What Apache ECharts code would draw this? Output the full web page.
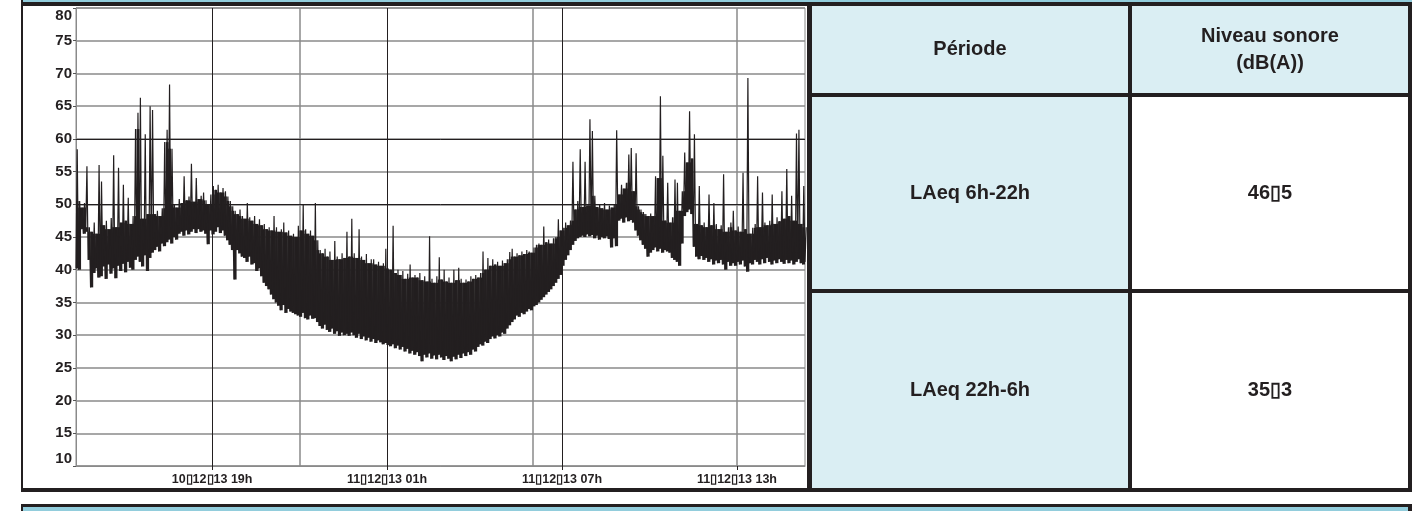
<!DOCTYPE html>
<html><head><meta charset="utf-8">
<script src="https://cdn.jsdelivr.net/npm/echarts@6/dist/echarts.min.js"></script>
<style>html,body{margin:0;padding:0;background:#fff;}#c{width:1424px;height:511px;}</style>
</head><body><div id="c"></div>
<script>
// ---- data ----
const startHour = 14 + 20 / 60;      // 10/12/13 14h20, hours counted from 10/12/13 00h
const endHour = startHour + 25;      // 11/12/13 15h20
const stepMinutes = 5;               // one min/max pair every 5 minutes
const highLevels = [
58.4,50.5,49.5,50.2,55.8,46.5,45.8,47.2,45.5,56.0,
53.5,46.8,47.5,46.2,47.9,57.5,46.5,55.6,47.2,53.0,
47.5,51.0,47.0,48.2,61.5,64.0,66.3,47.8,60.7,48.5,
65.0,64.4,48.5,49.0,48.2,49.4,59.5,61.4,68.3,58.5,
50.0,49.5,50.8,50.2,54.3,50.6,51.2,56.2,50.4,54.0,
50.8,51.3,51.8,50.6,50.0,51.5,52.8,52.2,53.0,51.8,
52.5,52.0,51.2,50.5,49.7,49.0,48.5,49.2,48.2,47.8,
50.2,48.0,47.5,48.2,47.0,47.7,46.8,47.0,46.2,46.5,
46.0,48.2,46.5,45.8,46.2,47.2,45.7,46.0,45.2,45.5,
45.0,46.7,46.0,50.0,46.2,45.5,46.0,45.2,50.2,44.5,
43.0,42.5,43.2,42.0,42.8,41.5,44.4,42.0,41.6,42.5,
41.8,45.8,42.0,47.8,42.5,41.8,46.2,42.0,41.5,42.4,
41.0,41.6,41.6,40.8,41.2,40.6,41.0,43.2,40.2,40.0,
46.7,39.5,40.0,39.2,39.8,38.6,39.4,40.8,38.8,39.2,
38.8,39.5,38.4,39.0,38.2,45.1,38.6,38.0,39.0,41.9,
38.5,40.0,38.2,38.8,38.0,40.0,38.4,40.3,38.6,38.0,
38.5,38.2,39.0,38.6,39.2,38.8,39.5,42.8,40.0,41.8,
40.6,41.6,40.8,41.2,40.6,41.4,41.0,41.6,42.7,43.2,
42.0,42.5,42.2,42.8,42.4,43.0,42.8,42.6,43.4,43.8,
44.0,43.8,46.6,44.2,44.6,44.0,44.8,45.0,47.7,46.0,
46.4,47.2,46.8,47.5,56.5,49.2,50.5,58.4,49.6,56.5,
49.8,63.0,61.2,51.3,49.6,50.0,49.4,50.2,49.2,49.8,
49.5,50.0,61.3,51.5,53.0,52.4,53.3,57.6,58.6,52.0,
57.8,49.7,49.2,48.8,48.5,48.2,48.6,48.2,54.3,54.0,
66.5,57.4,47.5,53.3,47.2,48.0,53.8,53.3,49.0,52.0,
57.9,56.4,64.2,57.0,60.7,47.0,52.8,46.8,47.2,46.5,
51.5,46.8,50.2,47.0,46.2,46.8,54.6,45.8,46.5,47.2,
49.0,46.0,46.6,45.8,54.8,46.2,69.3,45.5,46.4,47.0,
54.3,46.5,51.8,47.2,46.8,47.5,51.5,47.0,48.0,47.4,
52.0,47.8,55.4,48.2,51.3,47.5,60.8,61.4,47.0,52.8,46.5
];
const lowLevels = [
40.2,40.0,46.2,45.5,45.8,41.5,37.3,39.5,40.2,38.8,
39.0,40.5,38.6,40.8,39.4,40.2,38.7,40.6,39.8,40.9,
39.6,41.2,40.3,40.0,41.5,42.0,41.2,40.5,42.2,39.8,
41.8,42.6,43.0,43.5,42.8,44.0,43.6,44.2,44.6,44.0,
45.0,44.6,45.5,45.8,45.2,46.0,45.4,45.8,46.2,45.6,
46.2,45.8,46.0,45.5,43.9,46.0,45.4,45.8,46.5,45.6,
46.0,45.2,44.5,43.8,43.0,38.5,43.0,42.5,42.0,41.8,
41.2,42.0,40.8,41.0,39.8,40.2,39.0,38.0,37.5,37.0,
36.2,35.5,35.0,34.5,33.8,34.6,33.4,34.0,33.6,33.4,
33.2,33.0,32.8,33.4,32.6,32.4,33.0,32.5,32.6,32.0,
31.4,31.0,31.6,30.8,30.5,31.0,30.2,30.6,29.9,30.4,
30.0,30.2,29.9,30.4,30.0,29.6,30.2,29.4,29.8,29.2,
29.6,29.0,29.4,28.8,29.2,28.9,28.6,28.8,28.5,28.3,
28.6,28.0,28.4,27.8,28.2,27.5,27.9,27.2,27.6,27.0,
27.4,26.8,26.0,27.0,26.6,27.2,26.4,26.9,26.3,27.0,
26.6,26.2,26.8,26.4,26.0,26.7,26.3,27.0,26.5,27.2,
26.8,27.4,27.0,27.8,27.5,28.2,28.6,28.4,29.0,28.8,
29.4,29.8,29.5,30.0,29.8,30.4,30.2,31.0,31.5,32.0,
32.4,33.0,32.8,33.4,33.2,33.6,34.0,33.8,34.4,34.6,
35.0,35.4,35.8,36.2,36.6,37.0,37.5,38.0,38.6,39.2,
40.6,41.5,42.2,43.0,43.8,44.4,44.8,45.0,45.2,45.0,
45.4,45.1,45.3,44.8,45.2,44.6,45.0,44.8,45.1,44.7,
43.4,44.8,43.6,47.5,47.8,47.2,48.0,47.4,47.6,47.2,
46.0,45.2,44.5,43.8,43.2,42.0,42.6,43.0,43.4,42.8,
43.2,42.6,43.0,42.8,42.6,41.8,41.5,41.2,40.6,44.0,
48.2,48.8,49.2,48.5,43.5,42.0,41.6,42.1,41.5,41.8,
41.2,41.6,40.8,41.4,41.0,41.5,40.8,40.0,41.2,40.6,
41.0,40.6,41.2,40.8,41.4,40.5,39.7,41.0,40.8,41.5,
41.2,40.8,41.6,41.0,41.8,41.2,40.8,41.4,41.0,41.6,
41.2,40.9,41.5,41.0,41.4,40.8,41.2,41.6,41.0,40.8,41.2
];
const yMin = 10, yMax = 80, yStep = 5;
const tickHours = [19, 25, 31, 37];
const tickLabels = ['10\u25AF12\u25AF13 19h', '11\u25AF12\u25AF13 01h', '11\u25AF12\u25AF13 07h', '11\u25AF12\u25AF13 13h'];
const darkHourLines = [19, 25, 31];   // 19h, 01h, 07h
const greyHourLines = [22, 30, 37];   // 22h, 06h, 13h
const darkLevelLines = [50, 60];
const tableHeader = ['P\u00e9riode', 'Niveau sonore\n(dB(A))'];
const periods = ['LAeq 6h-22h', 'LAeq 22h-6h'];
const periodLevels = ['46\u25AF5', '35\u25AF3'];

// ---- build ----
const ink = '#231f20';
const lightBlue = '#daeef3';
const bandBlue = '#92cddc';
const gridGrey = '#8a8a8a';
const n = lowLevels.length;
const lineData = [];
const bodyData = [];   // solid body of the noise band: low level up to the lowest neighbouring peak
for (let i = 0; i < n; i++) {
  const t = startHour + i * stepMinutes / 60;
  lineData.push([t, lowLevels[i]]);
  lineData.push([t + stepMinutes / 120, highLevels[i]]);
  const core = Math.min(highLevels[i], highLevels[Math.max(0, i - 1)], highLevels[Math.min(n - 1, i + 1)]);
  bodyData.push([t, lowLevels[i], core]);
}
const FONT = '"Liberation Sans", Arial, Helvetica, sans-serif';

const markLines = [];
darkHourLines.forEach(h => markLines.push({xAxis: h, lineStyle: {color: ink, width: 1, type: 'solid'}}));
greyHourLines.forEach(h => markLines.push({xAxis: h, lineStyle: {color: gridGrey, width: 1.5, type: 'solid'}}));
darkLevelLines.forEach(v => markLines.push({yAxis: v, lineStyle: {color: ink, width: 1, type: 'solid'}}));

// table geometry
const T = {x0: 807, x1: 1128, x2: 1408, y0: 2, yH: 93, yR: 289, y3: 488, lw: 4};
const colC1 = (T.x0 + 5 + T.x1) / 2, colC2 = (T.x1 + T.lw + T.x2) / 2;
const rowC = [(T.y0 + T.lw + T.yH) / 2, (T.yH + T.lw + T.yR) / 2, (T.yR + T.lw + T.y3) / 2];
function box(x, y, w, h, fill, z) { return {type: 'rect', shape: {x, y, width: w, height: h}, style: {fill}, silent: true, z: z || 10}; }
function txt(s, x, y) {
  return {type: 'text', x, y, silent: true, z: 20,
    style: {text: s, align: 'center', verticalAlign: 'middle', fill: ink,
      font: 'bold 20px ' + FONT, lineHeight: 27}};
}
const graphics = [
  box(T.x0, T.y0, T.x1 - T.x0, T.y3 - T.y0, lightBlue, 5),
  box(T.x1, T.y0, T.x2 - T.x1, T.yH - T.y0, lightBlue, 5),
  box(21, 0, T.x2 + T.lw - 21, 2, bandBlue),
  box(21, 2, T.x2 + T.lw - 21, 4, ink),
  box(21, 0, 2, 492, ink),
  box(21, 488, T.x2 + T.lw - 21, 4, ink),
  box(T.x0, 2, 5, 490, ink),
  box(T.x1, 2, T.lw, 490, ink),
  box(T.x2, 2, T.lw, 490, ink),
  box(T.x0, T.yH, T.x2 + T.lw - T.x0, T.lw, ink),
  box(T.x0, T.yR, T.x2 + T.lw - T.x0, T.lw, ink),
  box(21, 504, T.x2 + T.lw - 21, 7, ink),
  box(23, 507, T.x2 - 23, 4, bandBlue, 11),
  txt(tableHeader[0], colC1, rowC[0]),
  txt(tableHeader[1], colC2, rowC[0]),
  txt(periods[0], colC1, rowC[1]),
  txt(periodLevels[0], colC2, rowC[1]),
  txt(periods[1], colC1, rowC[2]),
  txt(periodLevels[1], colC2, rowC[2])
];

const chart = echarts.init(document.getElementById('c'), null, {renderer: 'canvas'});
chart.setOption({
  animation: false,
  backgroundColor: '#ffffff',
  grid: {left: 76, top: 8, width: 729, height: 458, show: true, borderColor: gridGrey, borderWidth: 1, backgroundColor: 'transparent'},
  xAxis: {
    type: 'value', min: startHour, max: endHour,
    axisLine: {show: true, lineStyle: {color: gridGrey, width: 1}},
    splitLine: {show: false},
    axisTick: {show: true, customValues: tickHours, length: 4, lineStyle: {color: ink}},
    axisLabel: {customValues: tickHours, margin: 7, color: ink, fontFamily: FONT, fontWeight: 'bold', fontSize: 12.5,
      formatter: v => { const k = tickHours.findIndex(h => Math.abs(h - v) < 1e-6); return k >= 0 ? tickLabels[k] : ''; }}
  },
  yAxis: {
    type: 'value', min: yMin, max: yMax, interval: yStep,
    axisLine: {show: true, lineStyle: {color: gridGrey, width: 1}},
    axisTick: {show: true, length: 3, lineStyle: {color: '#555'}},
    splitLine: {show: true, lineStyle: {color: gridGrey, width: 1.5}},
    axisLabel: {margin: 4, color: ink, fontFamily: FONT, fontWeight: 'bold', fontSize: 15,
      verticalAlignMaxLabel: 'top', verticalAlignMinLabel: 'bottom'}
  },
  series: [{
    type: 'custom', data: bodyData, z: 3, silent: true, clip: true,
    renderItem: (params, api) => {
      const top = api.coord([api.value(0), api.value(2)]);
      const bot = api.coord([api.value(0), api.value(1)]);
      const w = api.size([stepMinutes / 60, 0])[0];
      return {type: 'rect', shape: {x: top[0] - 0.2, y: top[1], width: w + 0.4, height: bot[1] - top[1]},
        style: {fill: ink}};
    }
  }, {
    type: 'line', data: lineData, showSymbol: false, symbol: 'none', sampling: false,
    lineStyle: {color: ink, width: 1.2}, z: 4,
    markLine: {silent: true, symbol: 'none', label: {show: false}, animation: false, z: 2, data: markLines}
  }],
  graphic: graphics
});
</script>
</body></html>
